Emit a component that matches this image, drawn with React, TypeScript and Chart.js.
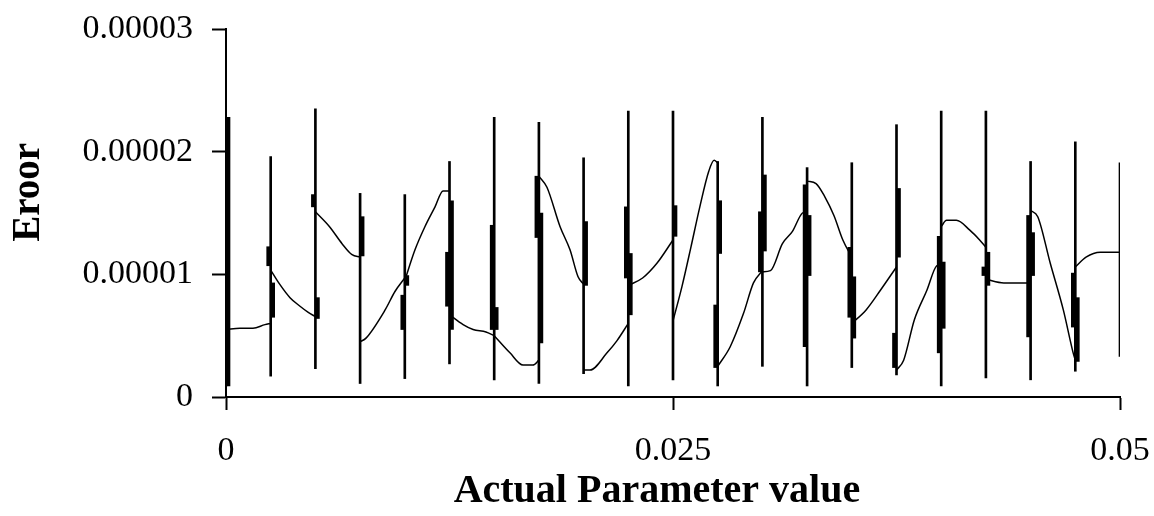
import React, { useEffect, useRef } from 'react';
import { Chart, registerables } from 'chart.js';

Chart.register(...registerables);

// ---- Data (x in parameter units, y values given in units of 1e-5) ----
const Y_UNIT = 1e-5;
const X_UNIT = 1e-3;

const xTickLabels = ['0', '0.025', '0.05'];
const yTickLabels = ['0', '0.00001', '0.00002', '0.00003'];
const xTitle = 'Actual Parameter value';
const yTitle = 'Eroor';

// positions of the high-low lines (parameter values)
const lineX = [0, 0.0025, 0.005, 0.0075, 0.01, 0.0125, 0.015, 0.0175, 0.02, 0.0225, 0.025,
  0.0275, 0.03, 0.0325, 0.035, 0.0375, 0.04, 0.0425, 0.045, 0.0475, 0.05];

// high / low of each thin vertical line (x1e-5)
const highs = [2.28, 1.96, 2.35, 1.66, 1.65, 1.92, 2.28, 2.24, 1.95, 2.33, 2.33,
  1.92, 2.28, 1.87, 1.91, 2.22, 2.33, 2.33, 1.92, 2.08, 1.91];
const lows = [0.09, 0.17, 0.23, 0.11, 0.15, 0.27, 0.14, 0.11, 0.19, 0.09, 0.14,
  0.09, 0.25, 0.09, 0.24, 0.18, 0.09, 0.155, 0.14, 0.21, 0.33];

// thick boxes, left series (x1e-5)
const boxATop = [null, 1.225, 1.65, null, 0.83, 1.18, 1.40, 1.80, null, 1.55, null,
  0.75, 1.51, 1.73, 1.22, 0.52, 1.31, 1.06, 1.48, 1.01, null];
const boxABottom = [null, 1.07, 1.55, null, 0.55, 0.74, 0.55, 1.30, null, 0.97, null,
  0.24, 1.02, 0.41, 0.65, 0.24, 0.36, 0.99, 0.49, 0.57, null];
// thick boxes, right series (x1e-5)
const boxBTop = [2.28, 0.93, 0.81, 1.47, 0.99, 1.60, 0.73, 1.50, 1.43, 1.17, 1.56,
  1.60, 1.81, 1.48, 0.98, 1.70, 1.10, 1.18, 1.34, 0.81, null];
const boxBBottom = [0.09, 0.65, 0.64, 1.15, 0.91, 0.55, 0.55, 0.44, 0.91, 0.67, 1.31,
  1.17, 1.19, 0.99, 0.48, 1.14, 0.56, 0.91, 0.99, 0.29, null];

// error curve: x (x1e-3) and y (x1e-5); a null y breaks the curve between pieces
const curveX = [
  0, 0.78, 1.51, 2.18, 2.5, 2.5,
  2.5, 3.0, 3.58, 4.14, 4.6, 5.0, 5.0,
  5.0, 5.78, 6.49, 7.05, 7.5, 7.5,
  7.5, 7.83, 8.9, 9.45, 10.0, 10.0,
  10.0, 10.57, 11.13, 11.69, 12.14, 12.5, 12.5,
  12.5, 13.26, 13.82, 14.54, 15.0, 15.0,
  15.0, 15.88, 16.61, 17.17, 17.5, 17.5,
  17.5, 17.95, 18.68, 19.24, 19.69, 20.0, 20.0,
  20.0, 20.36, 21.31, 21.87, 22.5, 22.5,
  22.5, 23.3, 24.1, 25.0, 25.0,
  25.0, 25.5, 26.0, 26.5, 27.0, 27.3, 27.5, 27.5,
  27.5, 28.2, 28.94, 29.5, 30.0, 30.0,
  30.0, 30.45, 31.12, 31.68, 32.24, 32.5, 32.5,
  32.5, 33.0, 33.5, 34.0, 34.5, 35.0, 35.0,
  35.0, 35.8, 36.6, 37.5, 37.5,
  37.5, 37.9, 38.5, 39.2, 39.75, 40.0, 40.0,
  40.0, 40.3, 40.85, 41.6, 42.15, 42.5, 42.5,
  42.5, 43.5, 44.8, 45.0, 45.0,
  45.0, 45.4, 46.1, 46.83, 47.38, 47.5, 47.5,
  47.5, 48.1, 48.9, 50.0,
];
const curveY = [
  0.55, 0.56, 0.56, 0.59, 0.60, null,
  1.035, 0.92, 0.81, 0.74, 0.69, 0.655, null,
  1.51, 1.39, 1.25, 1.16, 1.14, null,
  0.45, 0.48, 0.71, 0.86, 0.97, null,
  0.95, 1.2, 1.39, 1.55, 1.68, 1.68, null,
  0.67, 0.59, 0.55, 0.53, 0.50, null,
  0.50, 0.36, 0.26, 0.26, 0.30, null,
  1.80, 1.71, 1.39, 1.20, 0.98, 0.92, null,
  0.22, 0.22, 0.36, 0.46, 0.60, null,
  0.91, 0.97, 1.09, 1.28, null,
  0.62, 0.90, 1.22, 1.55, 1.84, 1.93, 1.91, null,
  0.25, 0.41, 0.68, 0.93, 1.03, null,
  1.02, 1.03, 1.25, 1.35, 1.50, 1.51, null,
  1.76, 1.74, 1.63, 1.48, 1.28, 1.14, null,
  0.60, 0.71, 0.87, 1.06, null,
  0.22, 0.30, 0.63, 0.87, 1.07, 1.08, null,
  1.39, 1.44, 1.44, 1.36, 1.28, 1.22, null,
  0.96, 0.93, 0.93, 0.94, null,
  1.52, 1.47, 1.09, 0.71, 0.36, 0.30, null,
  1.06, 1.14, 1.18, 1.18,
];

const FONT = '"Liberation Serif", "Times New Roman", serif';

const titlesPlugin = {
  id: 'axisTitles',
  afterDraw(chart: any) {
    const { ctx, chartArea } = chart;
    const w = chartArea.right - chartArea.left;
    const h = chartArea.bottom - chartArea.top;
    ctx.save();
    ctx.fillStyle = '#000';
    ctx.textAlign = 'center';
    ctx.textBaseline = 'middle';
    ctx.font = `bold 40px ${FONT}`;
    ctx.fillText(xTitle, chartArea.left + 0.482 * w, chartArea.bottom + 95);
    ctx.translate(28.5, chartArea.top + 0.444 * h);
    ctx.rotate(-Math.PI / 2);
    ctx.font = `bold 39px ${FONT}`;
    ctx.fillText(yTitle, 0, 0);
    ctx.restore();
  },
};

const noScalePadding = (s: any) => {
  s.paddingLeft = 0;
  s.paddingRight = 0;
  s.paddingTop = 0;
  s.paddingBottom = 0;
};

export default function App() {
  const ref = useRef<HTMLCanvasElement>(null);

  useEffect(() => {
    const curveData = curveX.map((x, i) => ({
      x: x * X_UNIT,
      y: curveY[i] === null ? null : (curveY[i] as number) * Y_UNIT,
    }));
    const highLowData = lineX.map((x, i) => ({ x, y: [lows[i] * Y_UNIT, highs[i] * Y_UNIT] }));
    const boxAData = lineX
      .map((x, i) => (boxATop[i] === null ? null : { x, y: [(boxABottom[i] as number) * Y_UNIT, (boxATop[i] as number) * Y_UNIT] }))
      .filter((d) => d !== null);
    const boxBData = lineX
      .map((x, i) => (boxBTop[i] === null ? null : { x, y: [(boxBBottom[i] as number) * Y_UNIT, (boxBTop[i] as number) * Y_UNIT] }))
      .filter((d) => d !== null);

    const chart = new Chart(ref.current as HTMLCanvasElement, {
      type: 'bar',
      data: {
        datasets: [
          {
            type: 'line',
            data: curveData,
            borderColor: '#000',
            borderWidth: 1.5,
            pointRadius: 0,
            cubicInterpolationMode: 'monotone',
            spanGaps: false,
            fill: false,
            order: 0,
          } as any,
          {
            type: 'bar',
            data: highLowData,
            backgroundColor: '#000',
            barThickness: 2,
            grouped: false,
            stack: 'c',
            order: 3,
          } as any,
          {
            type: 'bar',
            data: boxAData,
            backgroundColor: '#000',
            barThickness: 4,
            stack: 'a',
            order: 2,
          } as any,
          {
            type: 'bar',
            data: boxBData,
            backgroundColor: '#000',
            barThickness: 4,
            stack: 'b',
            order: 2,
          } as any,
        ],
      },
      options: {
        responsive: false,
        animation: false,
        events: [],
        layout: { padding: { top: 29, right: 34, left: 0, bottom: 0 } },
        plugins: { legend: { display: false }, tooltip: { enabled: false } },
        scales: {
          x: {
            type: 'linear',
            offset: false,
            min: 0,
            max: 0.05,
            afterFit: (s: any) => { s.height = 119; noScalePadding(s); },
            ticks: {
              stepSize: 0.025,
              maxRotation: 0,
              autoSkip: false,
              padding: 21,
              color: '#000',
              font: { family: FONT, size: 34 },
              callback: (_v: any, i: number) => xTickLabels[i],
            },
            grid: { display: true, drawOnChartArea: false, drawTicks: true, tickLength: 13, tickWidth: 2, tickColor: '#000', offset: false },
            border: { display: true, color: '#000', width: 2 },
          },
          y: {
            type: 'linear',
            min: 0,
            max: 0.00003,
            afterFit: (s: any) => { s.width = 226; noScalePadding(s); },
            ticks: {
              stepSize: 0.00001,
              padding: 19,
              color: '#000',
              font: { family: FONT, size: 34 },
              callback: (_v: any, i: number) => yTickLabels[i],
            },
            grid: { display: true, drawOnChartArea: false, drawTicks: true, tickLength: 14, tickWidth: 2, tickColor: '#000' },
            border: { display: true, color: '#000', width: 2 },
          },
        },
      } as any,
      plugins: [titlesPlugin],
    });
    return () => chart.destroy();
  }, []);

  return (
    <div style={{ position: 'fixed', left: 0, top: 0, width: 1154, height: 516, background: '#fff' }}>
      <canvas ref={ref} width={1154} height={516} style={{ display: 'block', width: 1154, height: 516 }} />
    </div>
  );
}
